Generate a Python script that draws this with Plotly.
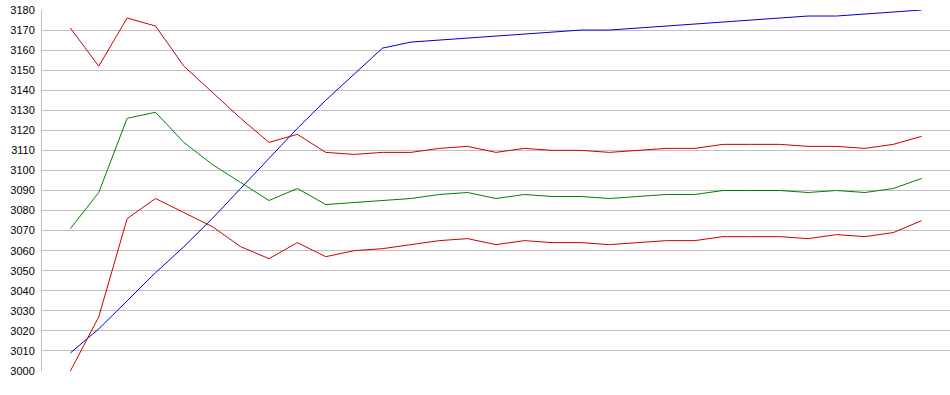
import plotly.graph_objects as go

x_idx = list(range(31))

red_upper = [3171, 3152, 3176, 3172, 3152, 3139, 3126, 3114, 3118, 3109, 3108, 3109, 3109, 3111, 3112,
             3109, 3111, 3110, 3110, 3109, 3110, 3111, 3111, 3113, 3113, 3113, 3112, 3112, 3111, 3113, 3117]
green_mid = [3071, 3089, 3126, 3129, 3114, 3103, 3094, 3085, 3091, 3083, 3084, 3085, 3086, 3088, 3089,
             3086, 3088, 3087, 3087, 3086, 3087, 3088, 3088, 3090, 3090, 3090, 3089, 3090, 3089, 3091, 3096]
red_lower = [3000, 3027, 3076, 3086, 3079, 3072, 3062, 3056, 3064, 3057, 3060, 3061, 3063, 3065, 3066,
             3063, 3065, 3064, 3064, 3063, 3064, 3065, 3065, 3067, 3067, 3067, 3066, 3068, 3067, 3069, 3075]
blue_line = [3009, 3021, 3035, 3049, 3062, 3076, 3091, 3106, 3121, 3135, 3148, 3161, 3164, 3165, 3166,
             3167, 3168, 3169, 3170, 3170, 3171, 3172, 3173, 3174, 3175, 3176, 3177, 3177, 3178, 3179, 3180]

y_ticks = list(range(3000, 3181, 10))

fig = go.Figure()
for ys, col in [(blue_line, "#0000cc"), (red_upper, "#cc0000"), (green_mid, "#008000"), (red_lower, "#cc0000")]:
    fig.add_trace(go.Scatter(x=x_idx, y=ys, mode="lines", line=dict(color=col, width=1),
                             showlegend=False, hoverinfo="skip"))

fig.update_layout(
    width=950, height=395,
    margin=dict(l=42, r=0, t=10, b=24),
    paper_bgcolor="white", plot_bgcolor="white",
    font=dict(family="Liberation Sans, Arial, sans-serif", size=11, color="#000000"),
)
fig.update_xaxes(range=[-1, 31], showgrid=False, zeroline=False, showticklabels=False,
                 showline=False, ticks="")
fig.update_yaxes(range=[3000, 3180], tickvals=y_ticks, ticktext=[str(v) for v in y_ticks],
                 showgrid=True, gridcolor="#c0c0c0", gridwidth=1, zeroline=False,
                 showline=True, linecolor="#c0c0c0", linewidth=1, ticks="", ticklabelstandoff=4)

fig.write_html("out.html", config={"displayModeBar": False},
               post_script="document.body.style.margin='0';document.body.style.overflow='hidden';")
